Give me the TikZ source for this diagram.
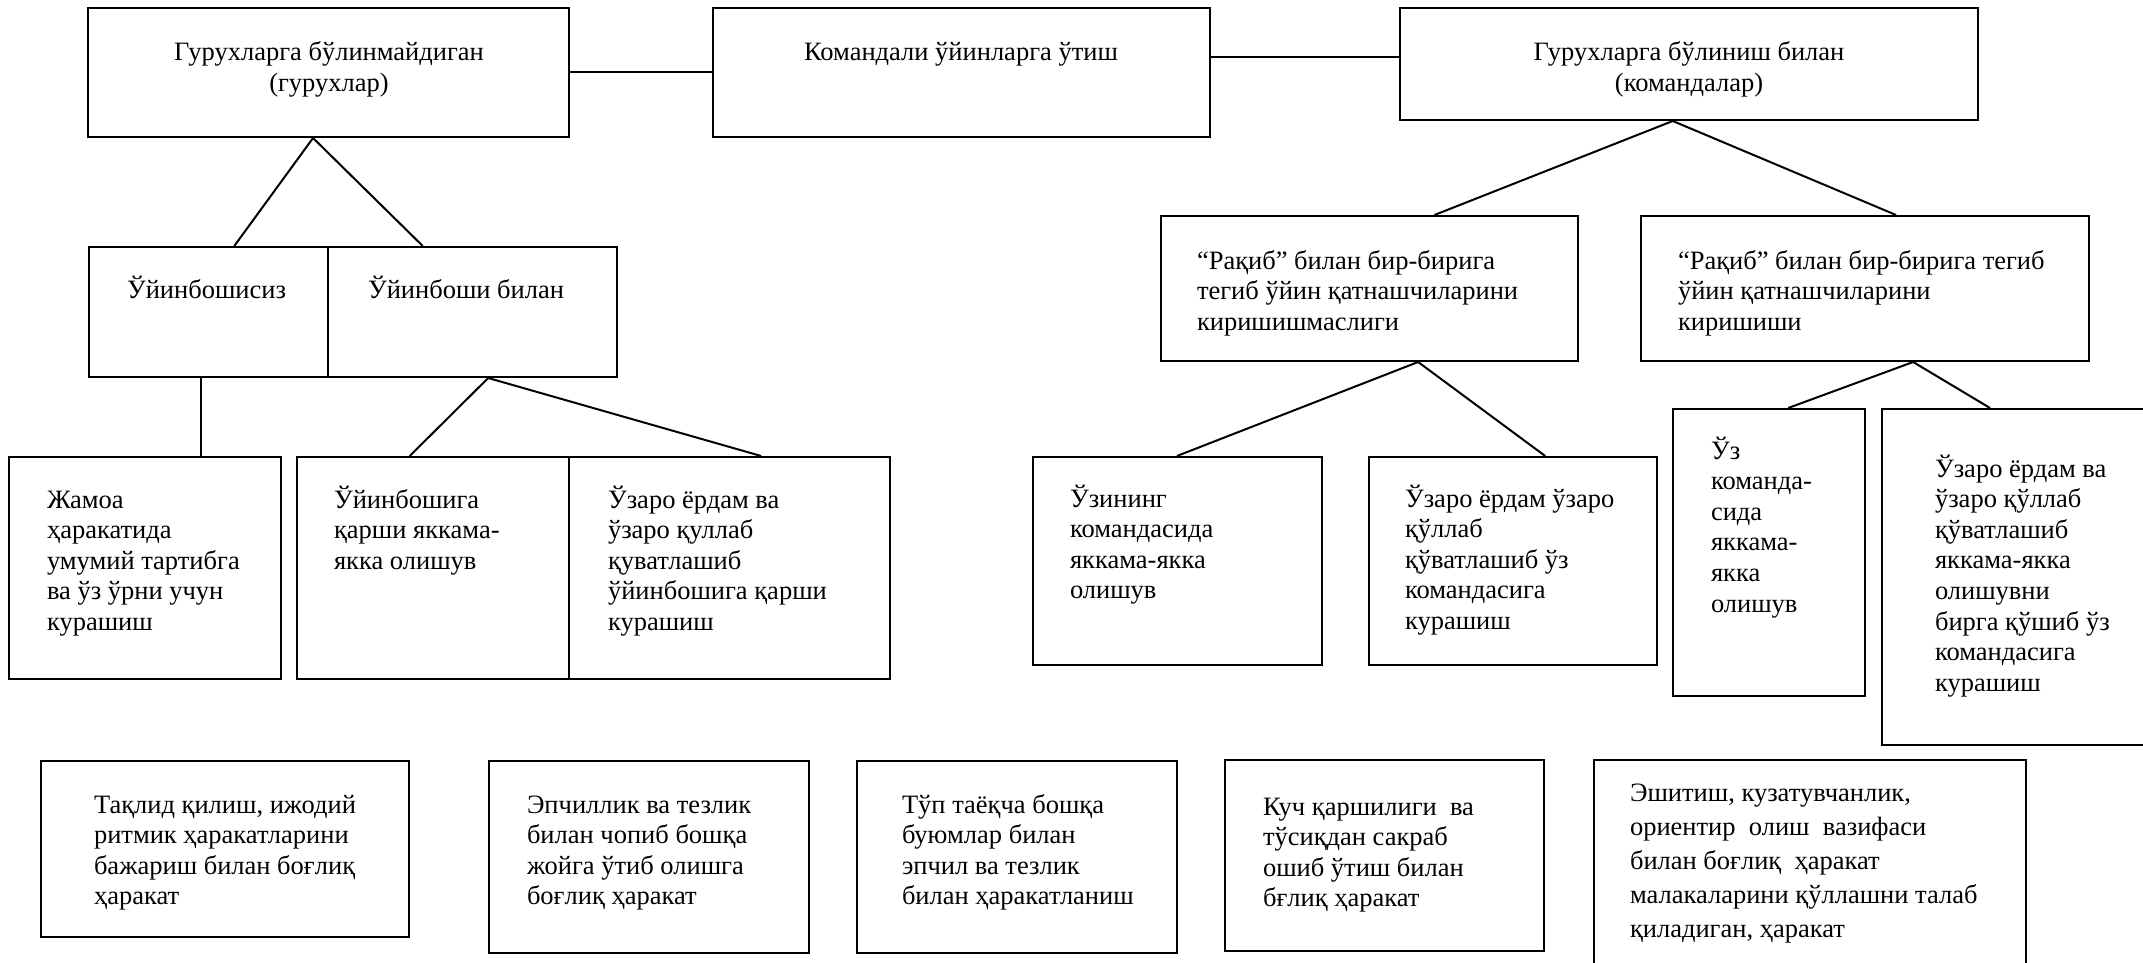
\documentclass[tikz,border=0pt]{standalone}
\usepackage{fontspec}
\setmainfont{Liberation Serif}
\usetikzlibrary{fit,calc}
\newcommand{\tl}[1]{\begin{tabular}[t]{@{}l@{}}#1\end{tabular}}
\newcommand{\tcx}[1]{\begin{tabular}[t]{@{}c@{}}#1\end{tabular}}
\begin{document}
\begin{tikzpicture}[x=0.5pt,y=-0.5pt,
  line width=1pt,
  box/.style={draw=black, inner sep=0pt, line width=1pt},
  txt/.style={inner sep=0pt, anchor=base west, font=\fontsize{13.25}{15.3}\selectfont},
  ctxt/.style={inner sep=0pt, anchor=base, font=\fontsize{13.25}{15.3}\selectfont},
  wtxt/.style={inner sep=0pt, anchor=base west, font=\fontsize{13.25}{17}\selectfont},
  conn/.style={draw=black, line width=1pt}]
\useasboundingbox (0,0) rectangle (2143,963);
\clip (0,0) rectangle (2143,963);
\fill[white] (0,0) rectangle (2143,963);

% boxes
\node[box, fit={(88,8) (569,137)}] (A) {};
\node[box, fit={(713,8) (1210,137)}] (B) {};
\node[box, fit={(1400,8) (1978,120)}] (C) {};
\node[box, fit={(89,247) (328,377)}] (U1) {};
\node[box, fit={(328,247) (617,377)}] (U2) {};
\node[box, fit={(9,457) (281,679)}] (J) {};
\node[box, fit={(297,457) (569,679)}] (P1) {};
\node[box, fit={(569,457) (890,679)}] (P2) {};
\node[box, fit={(1161,216) (1578,361)}] (R1) {};
\node[box, fit={(1641,216) (2089,361)}] (R2) {};
\node[box, fit={(1033,457) (1322,665)}] (Q1) {};
\node[box, fit={(1369,457) (1657,665)}] (Q2) {};
\node[box, fit={(1673,409) (1865,696)}] (Q3) {};
\node[box, fit={(1882,409) (2170,745)}] (Q4) {};
\node[box, fit={(41,761) (409,937)}] (W1) {};
\node[box, fit={(489,761) (809,953)}] (W2) {};
\node[box, fit={(857,761) (1177,953)}] (W3) {};
\node[box, fit={(1225,760) (1544,951)}] (W4) {};
\node[box, fit={(1594,760) (2026,990)}] (W5) {};

% texts
\node[ctxt] (tA) at (329,61) {\tcx{Гурухларга бўлинмайдиган\\(гурухлар)}};
\node[ctxt] (tB) at (961,61) {\tcx{Командали ўйинларга ўтиш}};
\node[ctxt] (tC) at (1689,61) {\tcx{Гурухларга бўлиниш билан\\(командалар)}};
\node[txt] (tU1) at (126,298) {\tl{Ўйинбошисиз}};
\node[txt] (tU2) at (367,298) {\tl{Ўйинбоши билан}};
\node[txt] (tJ) at (46,508) {\tl{Жамоа\\ҳаракатида\\умумий тартибга\\ва ўз ўрни учун\\курашиш}};
\node[txt] (tP1) at (333,508) {\tl{Ўйинбошига\\қарши яккама-\\якка олишув}};
\node[txt] (tP2) at (607,508) {\tl{Ўзаро ёрдам ва\\ўзаро қуллаб\\қуватлашиб\\ўйинбошига қарши\\курашиш}};
\node[txt] (tR1) at (1196,269) {\tl{“Рақиб” билан бир-бирига\\тегиб ўйин қатнашчиларини\\киришишмаслиги}};
\node[txt] (tR2) at (1677,269) {\tl{“Рақиб” билан бир-бирига тегиб\\ўйин қатнашчиларини\\киришиши}};
\node[txt] (tQ1) at (1069,507) {\tl{Ўзининг\\командасида\\яккама-якка\\олишув}};
\node[txt] (tQ2) at (1404,507) {\tl{Ўзаро ёрдам ўзаро\\қўллаб\\қўватлашиб ўз\\командасига\\курашиш}};
\node[txt] (tQ3) at (1710,459) {\tl{Ўз\\команда-\\сида\\яккама-\\якка\\олишув}};
\node[txt] (tQ4) at (1934,477) {\tl{Ўзаро ёрдам ва\\ўзаро қўллаб\\қўватлашиб\\яккама-якка\\олишувни\\бирга қўшиб ўз\\командасига\\курашиш}};
\node[txt] (tW1) at (93,813) {\tl{Тақлид қилиш, ижодий\\ритмик ҳаракатларини\\бажариш билан боғлиқ\\ҳаракат}};
\node[txt] (tW2) at (526,813) {\tl{Эпчиллик ва тезлик\\билан чопиб бошқа\\жойга ўтиб олишга\\боғлиқ ҳаракат}};
\node[txt] (tW3) at (901,813) {\tl{Тўп таёқча бошқа\\буюмлар билан\\эпчил ва тезлик\\билан ҳаракатланиш}};
\node[txt] (tW4) at (1262,815) {\tl{Куч қаршилиги\ \ ва\\тўсиқдан сакраб\\ошиб ўтиш билан\\бғлиқ ҳаракат}};
\node[wtxt] (tW5) at (1629,801) {\tl{Эшитиш, кузатувчанлик,\\ориентир\ \ олиш\ \ вазифаси\\билан боғлиқ\ \ ҳаракат\\малакаларини қўллашни талаб\\қиладиган, ҳаракат}};

% connector points
\coordinate (aA) at ($(A.south west)!0.468!(A.south east)$);
\coordinate (aU) at ($(U2.south west)!0.554!(U2.south east)$);
\coordinate (aC) at ($(C.south west)!0.472!(C.south east)$);
\coordinate (aR1) at ($(R1.south west)!0.616!(R1.south east)$);
\coordinate (aR2) at ($(R2.south west)!0.607!(R2.south east)$);

% connectors
\draw[conn] (A.east) -- (A.east -| B.west);
\draw[conn] ($(B.north east)!0.38!(B.south east)$) coordinate (bc) -- (bc -| C.west);
\draw[conn] ($(U1.north west)!0.607!(U1.north east)$) -- (aA) -- ($(U2.north west)!0.329!(U2.north east)$);
\draw[conn] ($(U1.south west)!0.469!(U1.south east)$) coordinate (uj) -- (uj |- J.north);
\draw[conn] ($(P1.north west)!0.415!(P1.north east)$) -- (aU) -- ($(P2.north west)!0.598!(P2.north east)$);
\draw[conn] ($(R1.north west)!0.655!(R1.north east)$) -- (aC) -- ($(R2.north west)!0.569!(R2.north east)$);
\draw[conn] ($(Q1.north west)!0.498!(Q1.north east)$) -- (aR1) -- ($(Q2.north west)!0.611!(Q2.north east)$);
\draw[conn] ($(Q3.north west)!0.599!(Q3.north east)$) -- (aR2) -- ($(Q4.north west)+(109,0)$);
\end{tikzpicture}
\end{document}
